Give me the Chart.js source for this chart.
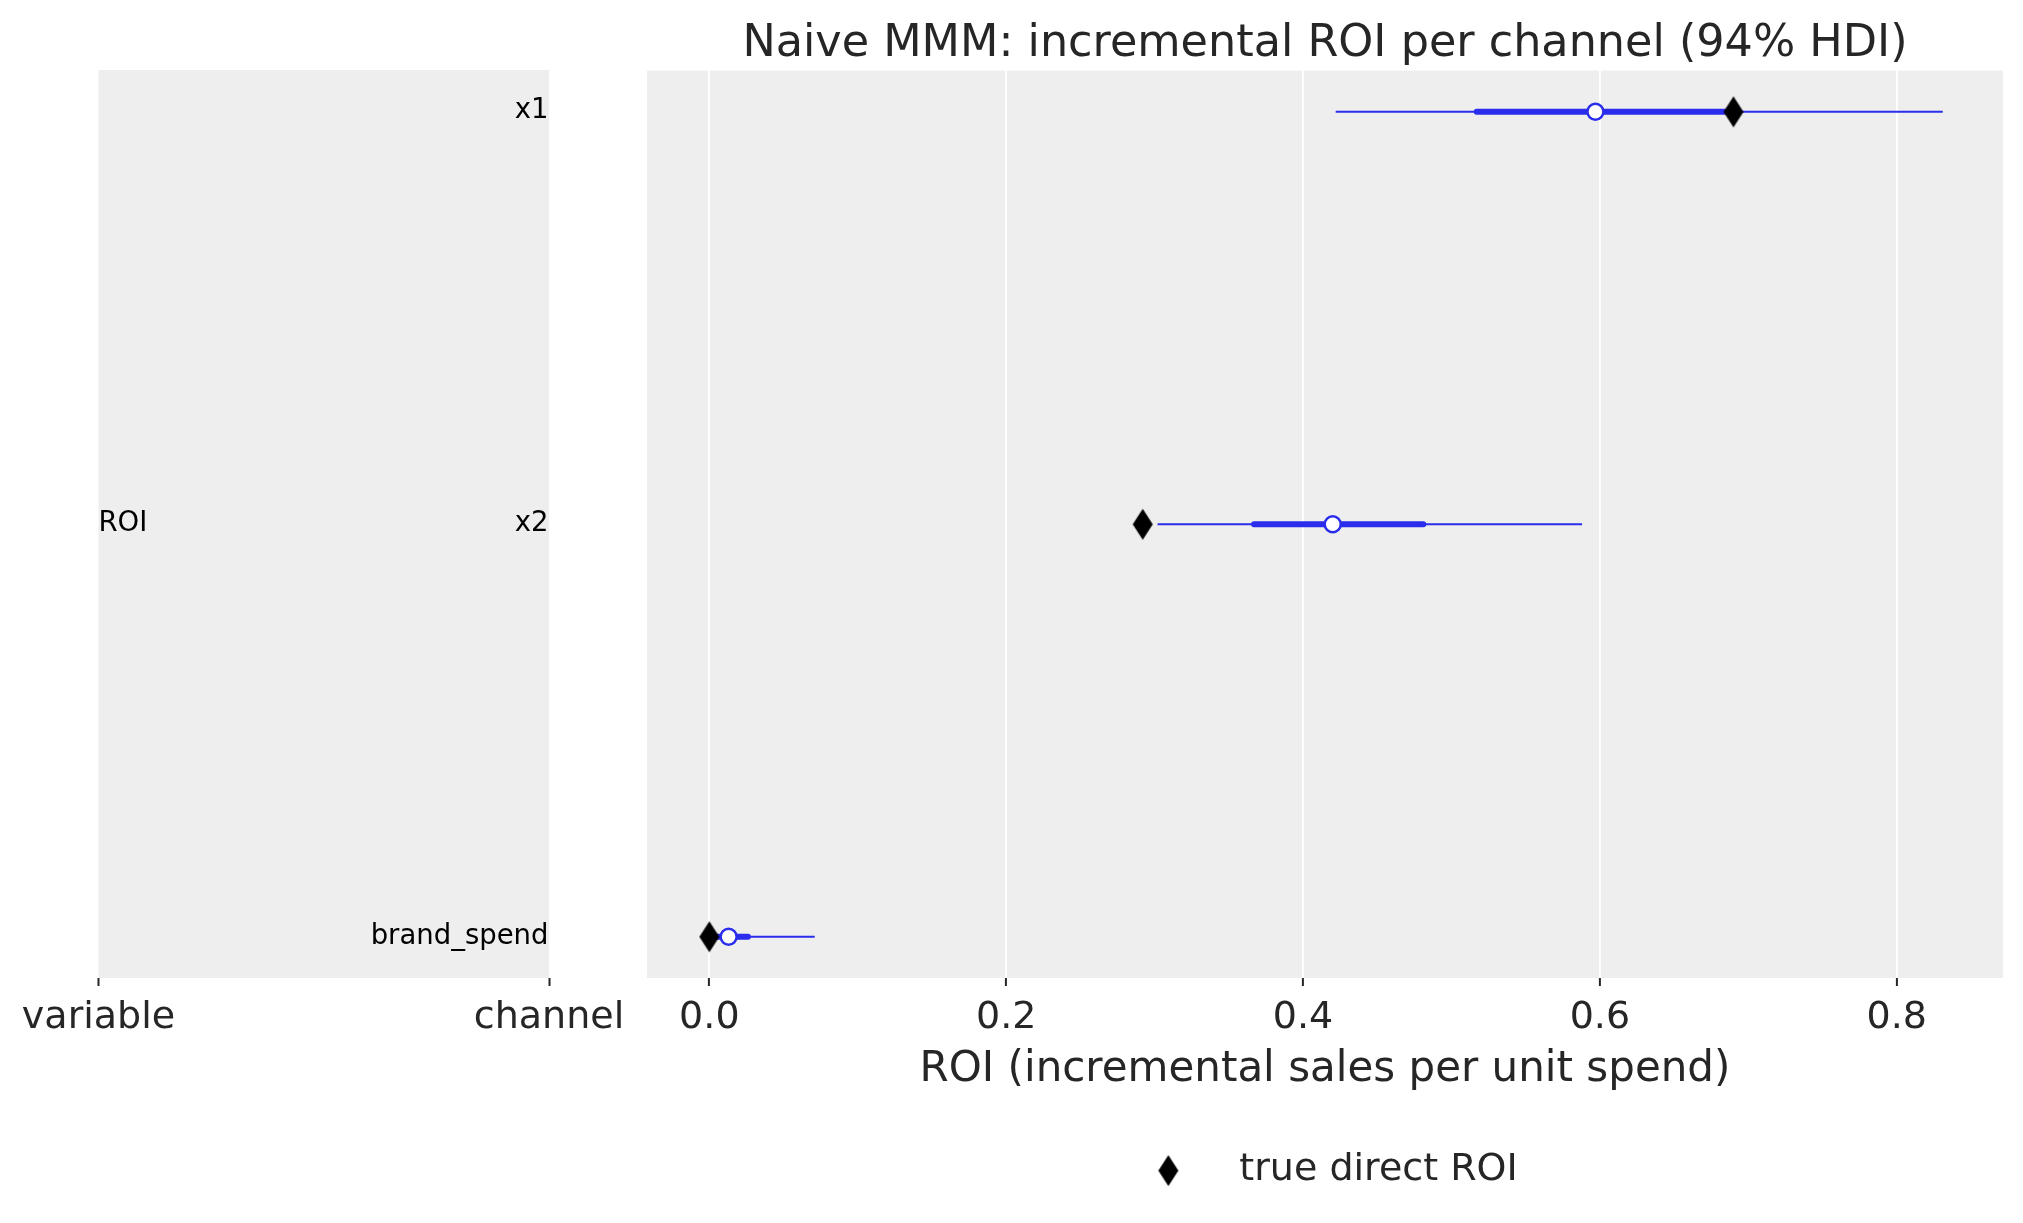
<!DOCTYPE html>
<html>
<head>
<meta charset="utf-8">
<script src="https://cdn.jsdelivr.net/npm/chart.js@4.4.0/dist/chart.umd.min.js"></script>
<style>
  html, body { margin: 0; padding: 0; background: #fff; }
  #wrap { position: relative; width: 2023px; height: 1223px; overflow: hidden; }
  canvas { position: absolute; top: 0; }
  #labelPanel { left: 0; }
  #forest { left: 600px; }
</style>
</head>
<body>
<div id="wrap">
  <canvas id="labelPanel" width="700" height="1223"></canvas>
  <canvas id="forest" width="1423" height="1223"></canvas>
</div>
<script>
// data
const channels = ['x1', 'x2', 'brand_spend'];
const variableName = 'ROI';
const hdiLow = [0.422, 0.302, 0.0005];
const hdiHigh = [0.831, 0.588, 0.071];
const iqrLow = [0.517, 0.367, 0.004];
const iqrHigh = [0.688, 0.481, 0.026];
const medians = [0.597, 0.420, 0.013];
const trueRoi = [0.690, 0.292, 0.0];
const xTicks = [0, 0.2, 0.4, 0.6, 0.8];
const xTickLabels = ['0.0', '0.2', '0.4', '0.6', '0.8'];
const panelTicks = [0, 1];
const panelTickLabels = ['variable', 'channel'];

const blue = '#2a2eec';
const textColor = '#262626';
Chart.defaults.font.family = '"DejaVu Sans", sans-serif';
Chart.defaults.color = textColor;

// thin diamond marker (matplotlib 'd')
function thinDiamond() {
  const c = document.createElement('canvas');
  c.width = 22; c.height = 33;
  const g = c.getContext('2d');
  g.fillStyle = '#000';
  g.beginPath();
  g.moveTo(11, 1); g.lineTo(21, 16.5); g.lineTo(11, 32); g.lineTo(1, 16.5);
  g.closePath();
  g.fill();
  return c;
}
const diamond = thinDiamond();

// gray panel behind everything
const panelBg = {
  id: 'panelBg',
  beforeDraw(chart) {
    const {ctx, chartArea: a} = chart;
    ctx.save();
    ctx.fillStyle = '#eeeeee';
    ctx.fillRect(a.left, a.top, a.right - a.left, a.bottom - a.top);
    ctx.restore();
  }
};

// variable / channel names in the left panel
const rowLabels = {
  id: 'rowLabels',
  afterDatasetsDraw(chart) {
    const {ctx, scales: {x, y}} = chart;
    ctx.save();
    ctx.font = '27.5px "DejaVu Sans"';
    ctx.fillStyle = '#000';
    ctx.textBaseline = 'middle';
    ctx.textAlign = 'right';
    channels.forEach((c, i) => ctx.fillText(c, x.getPixelForValue(1) - 0.5, y.getPixelForValue(i)));
    ctx.textAlign = 'left';
    ctx.fillText(variableName, x.getPixelForValue(0), y.getPixelForValue((channels.length - 1) / 2));
    ctx.restore();
  }
};

const yRange = {min: -0.1, max: channels.length - 1 + 0.1};

function bottomAxis(extra) {
  return Object.assign({
    type: 'linear',
    position: 'bottom',
    border: {display: false},
    grid: {color: '#ffffff', lineWidth: 1.8, tickLength: 8, tickColor: textColor, tickWidth: 2},
    ticks: {font: {size: 38}, color: textColor, padding: 9, maxRotation: 0, autoSkip: false},
    afterFit: (s) => { s.height = 163.6; }
  }, extra);
}

// left panel
new Chart(document.getElementById('labelPanel'), {
  type: 'scatter',
  data: {datasets: []},
  options: {
    responsive: false,
    devicePixelRatio: 1,
    animation: false,
    layout: {padding: {top: 70, left: 98.5, right: 151, bottom: 0}},
    plugins: {legend: {display: false}, tooltip: {enabled: false}},
    scales: {
      x: bottomAxis({
        min: 0, max: 1,
        grid: {drawOnChartArea: false, tickLength: 8, tickColor: textColor, tickWidth: 2},
        afterBuildTicks: (s) => { s.ticks = panelTicks.map(v => ({value: v})); },
        ticks: {font: {size: 38}, color: textColor, padding: 9, maxRotation: 0, autoSkip: false,
          callback: (v, i) => panelTickLabels[i]},
        afterFit: (s) => { s.height = 245; }
      }),
      y: Object.assign({type: 'linear', reverse: true, display: false}, yRange)
    }
  },
  plugins: [panelBg, rowLabels]
});

// forest plot
const datasets = [];
channels.forEach((name, i) => {
  datasets.push({
    label: name + ' 94% HDI',
    data: [{x: hdiLow[i], y: i}, {x: hdiHigh[i], y: i}],
    showLine: true, borderColor: blue, borderWidth: 2, pointRadius: 0, order: 3
  });
  datasets.push({
    label: name + ' interquartile',
    data: [{x: iqrLow[i], y: i}, {x: iqrHigh[i], y: i}],
    showLine: true, borderColor: blue, borderWidth: 6, borderCapStyle: 'round', pointRadius: 0, order: 2
  });
});
datasets.push({
  label: 'median',
  data: medians.map((m, i) => ({x: m, y: i})),
  pointRadius: 8, pointBorderWidth: 2.5,
  pointBackgroundColor: '#ffffff', pointBorderColor: blue, order: 1
});
datasets.push({
  label: 'true direct ROI',
  data: trueRoi.map((v, i) => ({x: v, y: i})),
  pointStyle: diamond, backgroundColor: '#000', borderColor: '#000', order: 0
});

new Chart(document.getElementById('forest'), {
  type: 'scatter',
  data: {datasets},
  options: {
    responsive: false,
    devicePixelRatio: 1,
    animation: false,
    layout: {padding: {top: 0, left: 31, right: 20, bottom: 23.4}},
    plugins: {
      title: {
        display: true,
        fullSize: false,
        text: 'Naive MMM: incremental ROI per channel (94% HDI)',
        font: {size: 44.5, weight: 'normal', lineHeight: 1.15},
        color: textColor,
        padding: {top: 18.5, bottom: 0.9}
      },
      legend: {
        position: 'bottom',
        labels: {
          usePointStyle: true,
          pointStyleWidth: 104,
          padding: 10,
          font: {size: 38},
          color: textColor,
          filter: (item) => item.text === 'true direct ROI'
        }
      },
      tooltip: {enabled: false}
    },
    scales: {
      x: bottomAxis({
        min: -0.042, max: 0.8716,
        afterBuildTicks: (s) => { s.ticks = xTicks.map(v => ({value: v})); },
        ticks: {font: {size: 38}, color: textColor, padding: 9, maxRotation: 0, autoSkip: false,
          callback: (v, i) => xTickLabels[i]},
        title: {
          display: true,
          text: 'ROI (incremental sales per unit spend)',
          font: {size: 42},
          color: textColor,
          padding: {top: 0, bottom: 46.4}
        }
      }),
      // invisible strip so the legend centres a little left of the plot
      y: Object.assign({
        type: 'linear', reverse: true, display: true,
        grid: {display: false}, border: {display: false}, ticks: {display: false},
        afterFit: (s) => { s.width = 16; }
      }, yRange)
    }
  },
  plugins: [panelBg]
});
</script>
</body>
</html>
